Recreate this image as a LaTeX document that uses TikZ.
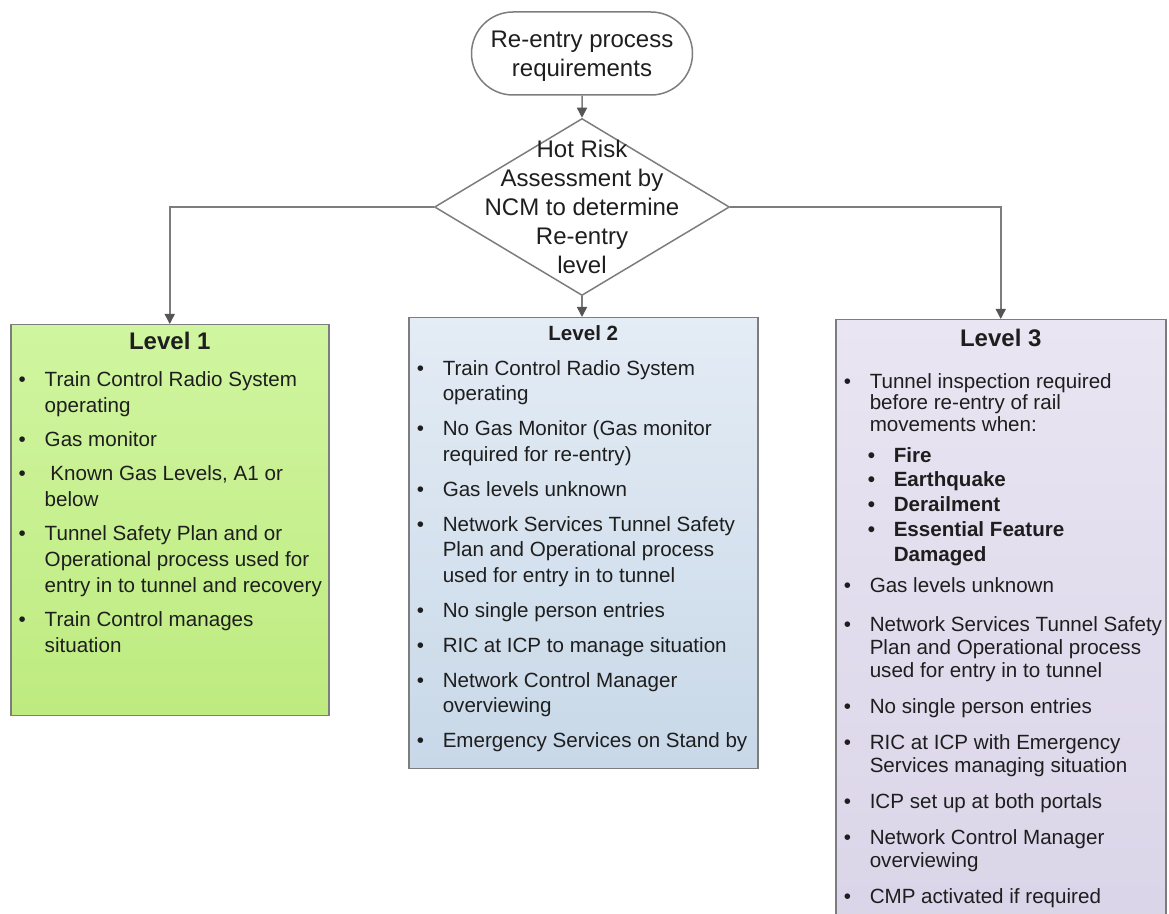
\documentclass[tikz,border=0pt]{standalone}
\usepackage{fontspec}
\setmainfont{Liberation Sans}
\usetikzlibrary{arrows.meta,shapes.geometric,shapes.misc}

\definecolor{edgegray}{RGB}{125,125,125}
\definecolor{headgray}{RGB}{85,85,85}
\definecolor{textgray}{RGB}{30,30,30}
\definecolor{lvlonetop}{RGB}{208,245,160}
\definecolor{lvlonebot}{RGB}{190,235,128}
\definecolor{lvltwotop}{RGB}{228,236,245}
\definecolor{lvltwobot}{RGB}{200,216,232}
\definecolor{lvlthreetop}{RGB}{233,229,242}
\definecolor{lvlthreebot}{RGB}{218,212,232}

% bullet list of a level box: baselineskip, itemsep, gap under title
\newenvironment{lvlitems}[3]{%
  \fontsize{10.3}{#1}\selectfont
  \begin{list}{\textbullet}{%
    \setlength\leftmargin{17pt}\setlength\labelwidth{13pt}%
    \setlength\labelsep{0pt}\setlength\itemsep{#2}%
    \setlength\parsep{0pt}\setlength\topsep{#3}\setlength\partopsep{0pt}%
    \setlength\rightmargin{0pt}\renewcommand\makelabel[1]{##1\hfil}}%
  \raggedright}
  {\end{list}}
\newenvironment{subitems}{%
  \fontsize{10.3}{12.4}\selectfont\bfseries
  \begin{list}{\textbullet}{%
    \setlength\leftmargin{12pt}\setlength\labelwidth{13pt}%
    \setlength\labelsep{0pt}\setlength\itemsep{0pt}%
    \setlength\parsep{0pt}\setlength\topsep{3pt}\setlength\partopsep{0pt}%
    \renewcommand\makelabel[1]{##1\hfil}}}
  {\end{list}}
\newcommand\lvltitle[3]{{\centering\bfseries\fontsize{#1}{#1}\selectfont\rule{0pt}{#2}#3\par}}

\begin{document}
\begin{tikzpicture}[x=0.5pt,y=-0.5pt,
    every node/.style={text=textgray},
    terminal/.style={rounded rectangle, draw=edgegray, line width=0.75pt,
      minimum width=110.5pt, minimum height=41.5pt, inner sep=0pt,
      align=center, font=\fontsize{12}{14.5}\selectfont},
    decision/.style={diamond, draw=edgegray, line width=0.75pt,
      minimum width=147.5pt, minimum height=88.5pt, inner sep=0pt},
    lvlbox/.style={draw=edgegray, line width=0.75pt, inner sep=0pt, anchor=north west},
    conn/.style={draw=edgegray, line width=0.75pt,
      -{Triangle[length=5pt,width=5pt,color=headgray]}}]

    \useasboundingbox (0,0) rectangle (1169,914);
    \clip (0,0) rectangle (1169,914);

    \node[terminal] (term) at (582,53.5) {\rule{0pt}{10.5pt}Re-entry process\\requirements};
    \node[decision] (hra) at (582,207) {};
    \node[align=center, font=\fontsize{12}{14.5}\selectfont] (hratext) at (hra.center)
      {Hot Risk\\Assessment by\\NCM to determine\\Re-entry\\level};

    \node[lvlbox, top color=lvlonetop, bottom color=lvlonebot] (lvlone) at (10,324)
    {\parbox[c][195.5pt][t]{159pt}{%
      \lvltitle{12}{12.3pt}{Level 1}
      \begin{lvlitems}{13pt}{4pt}{5.6pt}
        \item Train Control Radio System\\operating
        \item Gas monitor
        \item \ Known Gas Levels, A1 or\\below
        \item Tunnel Safety Plan and or\\Operational process used for\\entry in to tunnel and recovery
        \item Train Control manages\\situation
      \end{lvlitems}}};

    \node[lvlbox, top color=lvltwotop, bottom color=lvltwobot] (lvltwo) at (408,317)
    {\parbox[c][225.5pt][t]{174.5pt}{%
      \lvltitle{10.3}{11.2pt}{Level 2}
      \begin{lvlitems}{12.75pt}{4.75pt}{4.9pt}
        \item Train Control Radio System\\operating
        \item No Gas Monitor (Gas monitor\\required for re-entry)
        \item Gas levels unknown
        \item Network Services Tunnel Safety\\Plan and Operational process\\used for entry in to tunnel
        \item No single person entries
        \item RIC at ICP to manage situation
        \item Network Control Manager\\overviewing
        \item Emergency Services on Stand by
      \end{lvlitems}}};

    \node[lvlbox, top color=lvlthreetop, bottom color=lvlthreebot] (lvlthree) at (835,319)
    {\parbox[c][310pt][t]{165pt}{%
      \lvltitle{12}{13.3pt}{Level 3}
      \begin{lvlitems}{11.5pt}{6.5pt}{10.2pt}
        \item {\fontsize{10.3}{10.75}\selectfont Tunnel inspection required\\before re-entry of rail\\movements when:\par}
          \begin{subitems}
            \item Fire
            \item Earthquake
            \item Derailment
            \item Essential Feature\\Damaged
          \end{subitems}
        \setlength\itemsep{4pt}
        \item Gas levels unknown
        \setlength\itemsep{8pt}
        \item Network Services Tunnel Safety\\Plan and Operational process\\used for entry in to tunnel
        \setlength\itemsep{6.5pt}
        \item No single person entries
        \item RIC at ICP with Emergency\\Services managing situation
        \item ICP set up at both portals
        \item Network Control Manager\\overviewing
        \item CMP activated if required
      \end{lvlitems}}};

    \draw[conn] (term) -- (hra);
    \draw[conn] (hra.south) -- (hra.south |- lvltwo.north);
    \draw[conn] (hra.west) -| (lvlone.north);
    \draw[conn] (hra.east) -| (lvlthree.north);

\end{tikzpicture}
\end{document}
